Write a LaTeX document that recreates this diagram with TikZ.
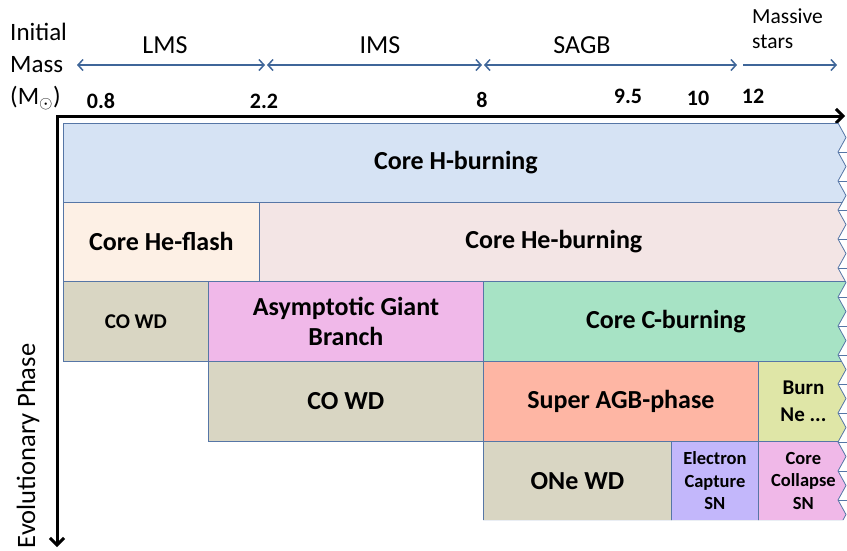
\documentclass[tikz,border=0pt]{standalone}
\usepackage{fontspec}
\setmainfont{Carlito}
\usetikzlibrary{arrows.meta,positioning,calc}
\definecolor{edge}{HTML}{5676A6}
\definecolor{rangeblue}{HTML}{3F6699}
\definecolor{hburn}{HTML}{D6E3F4}
\definecolor{heflash}{HTML}{FDF0E5}
\definecolor{heburn}{HTML}{F3E5E5}
\definecolor{wd}{HTML}{D9D6C3}
\definecolor{agb}{HTML}{F0B8E9}
\definecolor{cburn}{HTML}{A7E3C5}
\definecolor{sagb}{HTML}{FEB6A4}
\definecolor{neburn}{HTML}{DFE6A7}
\definecolor{ecsn}{HTML}{C3B7FB}
\definecolor{ccsn}{HTML}{F0B8E8}
\tikzset{
  phase/.style={draw=edge, line width=0.8pt, anchor=north west, inner sep=0pt,
    align=center, font=\fontsize{26}{30}\selectfont\bfseries},
  phasemid/.style={font=\fontsize{21}{27}\selectfont\bfseries},
  phasesmall/.style={font=\fontsize{18.5}{22.5}\selectfont\bfseries},
  massrange/.style={draw=rangeblue, line width=1.5pt,
    >={Straight Barb[length=5pt,width=11pt]}},
  rangelab/.style={font=\fontsize{26}{30}\selectfont},
  mass/.style={font=\fontsize{22}{26}\selectfont\bfseries, anchor=base},
  axis/.style={line width=3pt, line join=miter,
    >={Straight Barb[length=7pt,width=14pt]}},
  ttl/.style={font=\fontsize{25}{32}\selectfont, align=left, inner sep=0pt},
}

\begin{document}
\begin{tikzpicture}[x=1pt, y=-1pt]
\useasboundingbox (0,0) rectangle (847,550);

% Mass ranges along the top.
\node[ttl, anchor=north west] (title) at (10,23) {Initial\\Mass\\(M\textsubscript{$\odot$})};
\coordinate (lmsL) at (77,65);
\coordinate (lmsR) at (265,65);
\coordinate (imsL) at (267,65);
\coordinate (imsR) at (482,65);
\coordinate (sagbL) at (484,65);
\coordinate (sagbR) at (737,65);
\coordinate (msL) at (743,65);
\coordinate (msR) at (837,65);
\draw[massrange, <->] (lmsL) -- (lmsR);
\draw[massrange, <->] (imsL) -- (imsR);
\draw[massrange, <->] (sagbL) -- (sagbR);
\draw[massrange, ->] (msL) -- (msR);
\node[rangelab] (lms) at (165,45) {LMS};
\node[rangelab] (ims) at (380,45) {IMS};
\node[rangelab] (sagblab) at (582,45) {SAGB};
\node[font=\fontsize{21.5}{25}\selectfont, align=left, inner sep=0pt, anchor=north west]
  (massive) at (752,9) {Massive\\stars};

% Mass values.
\node[mass] (m08) at (101,108) {0.8};
\node[mass] (m22) at (264,108) {2.2};
\node[mass] (m8) at (482,107) {8};
\node[mass] (m95) at (628,103) {9.5};
\node[mass] (m10) at (698,105) {10};
\node[mass] (m12) at (753,103) {12};

% Axes.
\coordinate (corner) at (57,116);
\coordinate (xend) at (845,116);
\coordinate (yend) at (57,547);
\draw[axis, <->] (yend) -- (corner) -- (xend);
\node[font=\fontsize{26.5}{30}\selectfont, rotate=90] (evo) at (28,446) {Evolutionary Phase};

% Phases, cut off by the zigzag edge on the right.
\begin{scope}
\clip (63,123) -- (838,123) \foreach \k in {1,...,27} { -- ({838+8*mod(\k,2)},{123+14.5*\k}) }
  -- (843,520) -- (63,520) -- cycle;
\node[phase, fill=hburn, minimum width=785pt, minimum height=79pt] (hb) at (63,123) {Core H-burning};
\node[phase, fill=heflash, minimum width=196pt, minimum height=79pt] (hef) at (63,202) {Core He-flash};
\node[phase, fill=heburn, minimum width=589pt, minimum height=79pt] (heb) at (259,202) {Core He-burning};
\node[phase, phasemid, fill=wd, minimum width=145pt, minimum height=80pt] (cowda) at (63,281) {CO WD};
\node[phase, fill=agb, minimum width=275pt, minimum height=80pt] (agbp) at (208,281) {Asymptotic Giant\\Branch};
\node[phase, fill=cburn, minimum width=365pt, minimum height=80pt] (cb) at (483,281) {Core C-burning};
\node[phase, fill=wd, minimum width=275pt, minimum height=80pt] (cowdb) at (208,361) {CO WD};
\node[phase, fill=sagb, minimum width=275pt, minimum height=80pt] (sagbp) at (483,361) {Super AGB-phase};
\node[phase, phasemid, fill=neburn, minimum width=90pt, minimum height=80pt] (neb) at (758,361) {Burn\\Ne ...};
\node[phase, fill=wd, minimum width=188pt, minimum height=79pt] (onewd) at (483,441) {ONe WD};
\node[phase, phasesmall, fill=ecsn, minimum width=87pt, minimum height=79pt] (ec) at (671,441) {Electron\\Capture\\SN};
\node[phase, phasesmall, fill=ccsn, minimum width=90pt, minimum height=79pt] (cc) at (758,441) {Core\\Collapse\\SN};
\end{scope}
\draw[edge, line width=0.8pt] (838,123) \foreach \k in {1,...,27} { -- ({838+8*mod(\k,2)},{123+14.5*\k}) }
  -- (843,520);
\foreach \k in {2,4,...,26}
  \draw[edge, line width=0.6pt] (838,{123+14.5*\k}) -- (847,{123+14.5*\k});

\end{tikzpicture}
\end{document}
